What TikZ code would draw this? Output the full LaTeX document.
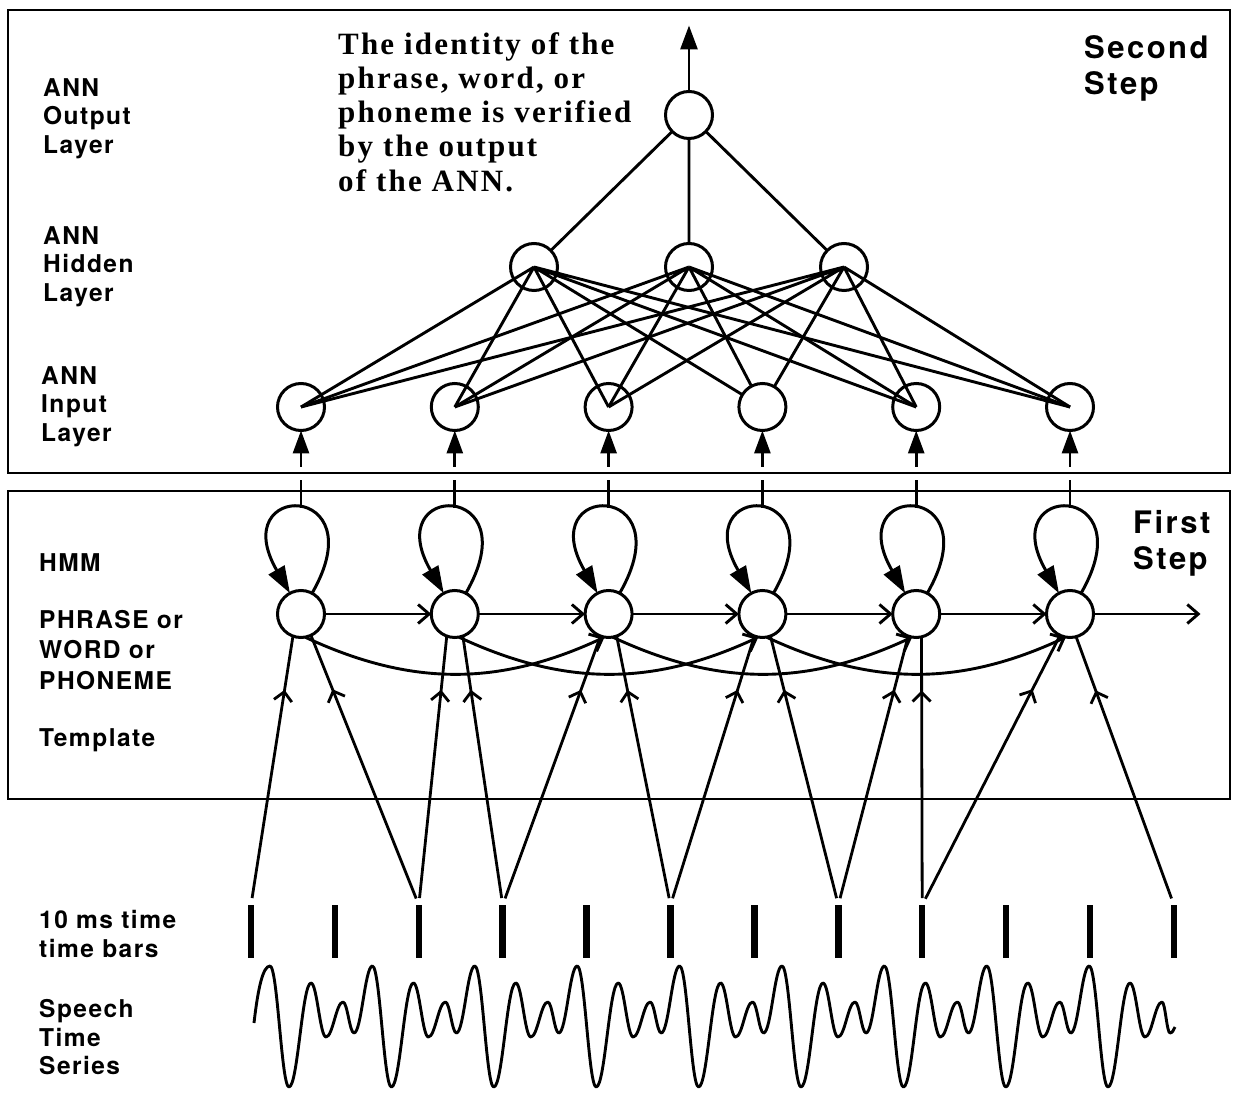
\documentclass[tikz,border=0pt]{standalone}
\usepackage{fontspec}
\setmainfont{Liberation Serif}
\setsansfont{TeX Gyre Heros}
\usepackage{tikz}
\usetikzlibrary{arrows.meta,positioning,decorations.markings}
\newfontfamily\labelfont[LetterSpace=6]{TeX Gyre Heros}
\newfontfamily\stepfont[LetterSpace=8]{TeX Gyre Heros}
\newfontfamily\notefont[LetterSpace=7]{Liberation Serif}

\begin{document}
\begin{tikzpicture}[x=1pt, y=1pt,
  node distance=106.8pt,
  state/.style={draw, circle, line width=3pt, minimum size=47pt, inner sep=0pt, outer sep=0pt},
  neuron/.style={state},
  link/.style={line width=2.9pt},
  fwd/.style={line width=2.9pt, -{Straight Barb[length=11pt,width=19pt]}},
  selfloop/.style={line width=3pt, -{Triangle[length=27pt,width=18pt]}},
  feed/.style={line width=2.9pt, -{Triangle[length=23pt,width=16pt]}, dash pattern=on 28pt off 13pt on 300pt},
  frame/.style={draw, line width=2.5pt},
  tbar/.style={fill, minimum width=6.5pt, minimum height=53pt, inner sep=0pt, outer sep=0pt},
  obs/.style={line width=2.8pt, shorten <=7pt, postaction={decorate},
    decoration={markings, mark=at position 0.8 with {\arrow{Straight Barb[length=9pt,width=18pt]}}}},
  wave/.style={line width=2.9pt, line join=round},
  lbl/.style={anchor=north west, inner sep=0pt, align=left, font=\labelfont\bfseries\fontsize{24.5}{28.8}\selectfont},
  steplbl/.style={anchor=north west, inner sep=0pt, align=left, font=\stepfont\bfseries\fontsize{31}{36}\selectfont},
  note/.style={anchor=north west, inner sep=0pt, align=left, font=\notefont\bfseries\fontsize{31}{34.3}\selectfont}
]
\useasboundingbox (0,0) rectangle (1236,1093);

% the two steps
\draw[frame] (8,620) rectangle (1230,1083);
\draw[frame] (8,294) rectangle (1230,602);

% labels
\node[lbl] (outlbl) at (43,1015) {ANN\\Output\\Layer};
\node[lbl] (hidlbl) at (43,867) {ANN\\Hidden\\Layer};
\node[lbl] (inlbl) at (41,727) {ANN\\Input\\Layer};
\node[lbl] (hmmlbl) at (39,540) {HMM};
\node[lbl, font=\labelfont\bfseries\fontsize{24.5}{30.5}\selectfont] (unitlbl) at (39,483) {PHRASE or\\WORD or\\PHONEME};
\node[lbl] (tpllbl) at (39,365) {Template};
\node[lbl] (barlbl) at (39,183) {10 ms time\\time bars};
\node[lbl] (wavelbl) at (39,94) {Speech\\Time\\Series};
\node[steplbl] (second) at (1084,1058) {Second\\Step};
\node[steplbl] (first) at (1133,583) {First\\Step};
\node[note] (verify) at (338,1061) {The identity of the\\phrase, word, or\\phoneme is verified\\by the output\\of the ANN.};

% ANN
\node[neuron] (hid2) at (689,826) {};
\node[neuron, left=108pt of hid2] (hid1) {};
\node[neuron, right=108pt of hid2] (hid3) {};
\node[neuron, above=105pt of hid2] (out) {};
\coordinate[above=66pt of out] (result);
\node[neuron] (in1) at (301,686) {};
\node[neuron, right=of in1] (in2) {};
\node[neuron, right=of in2] (in3) {};
\node[neuron, right=of in3] (in4) {};
\node[neuron, right=of in4] (in5) {};
\node[neuron, right=of in5] (in6) {};

\draw[line width=2.9pt, -{Triangle[length=24pt,width=17pt]}] (out) -- (result);
\draw[link] (out) -- (hid1) (out) -- (hid2) (out) -- (hid3);
\draw[link] (hid1.center) -- (in1.center) (hid1.center) -- (in2.center) (hid1.center) -- (in3.center)
  (hid1.center) -- (in4) (hid1.center) -- (in5.center) (hid1.center) -- (in6.center);
\draw[link] (hid2.center) -- (in1.center) (hid2.center) -- (in2.center) (hid2.center) -- (in3.center)
  (hid2.center) -- (in4) (hid2.center) -- (in5.center) (hid2.center) -- (in6.center);
\draw[link] (hid3.center) -- (in1.center) (hid3.center) -- (in2.center) (hid3.center) -- (in3.center)
  (hid3.center) -- (in4) (hid3.center) -- (in5.center) (hid3.center) -- (in6.center);

% HMM template
\node[state] (h1) at (301,479) {};
\node[state, right=of h1] (h2) {};
\node[state, right=of h2] (h3) {};
\node[state, right=of h3] (h4) {};
\node[state, right=of h4] (h5) {};
\node[state, right=of h5] (h6) {};
\coordinate[right=107pt of h6] (exit);
\coordinate[above=82.5pt of h1] (lt1);
\coordinate[above=82.5pt of h2] (lt2);
\coordinate[above=82.5pt of h3] (lt3);
\coordinate[above=82.5pt of h4] (lt4);
\coordinate[above=82.5pt of h5] (lt5);
\coordinate[above=82.5pt of h6] (lt6);

\draw[fwd] (h1) -- (h2);
\draw[fwd] (h2) -- (h3);
\draw[fwd] (h3) -- (h4);
\draw[fwd] (h4) -- (h5);
\draw[fwd] (h5) -- (h6);
\draw[fwd] (h6) -- (exit);
\draw[fwd] (h1.-80) to[out=-25, in=-155] (h3.-100);
\draw[fwd] (h2.-80) to[out=-25, in=-155] (h4.-100);
\draw[fwd] (h3.-80) to[out=-25, in=-155] (h5.-100);
\draw[fwd] (h4.-80) to[out=-25, in=-155] (h6.-100);
\draw[selfloop] (h1.62) .. controls +(60:130) and +(120:130) .. (h1.118);
\draw[selfloop] (h2.62) .. controls +(60:130) and +(120:130) .. (h2.118);
\draw[selfloop] (h3.62) .. controls +(60:130) and +(120:130) .. (h3.118);
\draw[selfloop] (h4.62) .. controls +(60:130) and +(120:130) .. (h4.118);
\draw[selfloop] (h5.62) .. controls +(60:130) and +(120:130) .. (h5.118);
\draw[selfloop] (h6.62) .. controls +(60:130) and +(120:130) .. (h6.118);
\draw[feed] (lt1) -- (in1);
\draw[feed] (lt2) -- (in2);
\draw[feed] (lt3) -- (in3);
\draw[feed] (lt4) -- (in4);
\draw[feed] (lt5) -- (in5);
\draw[feed] (lt6) -- (in6);

% 10 ms time bars
\node[tbar] (t1) at (251,161.5) {};
\node[tbar, right=77.4pt of t1] (t2) {};
\node[tbar, right=77.4pt of t2] (t3) {};
\node[tbar, right=77.4pt of t3] (t4) {};
\node[tbar, right=77.4pt of t4] (t5) {};
\node[tbar, right=77.4pt of t5] (t6) {};
\node[tbar, right=77.4pt of t6] (t7) {};
\node[tbar, right=77.4pt of t7] (t8) {};
\node[tbar, right=77.4pt of t8] (t9) {};
\node[tbar, right=77.4pt of t9] (t10) {};
\node[tbar, right=77.4pt of t10] (t11) {};
\node[tbar, right=77.4pt of t11] (t12) {};

\draw[obs] (t1.north) -- (h1.250);
\draw[obs] (t3.north) -- (h1.295);
\draw[obs] (t3.north) -- (h2.250);
\draw[obs] (t4.north) -- (h2.290);
\draw[obs] (t4.north) -- (h3.250);
\draw[obs] (t6.north) -- (h3.290);
\draw[obs] (t6.north) -- (h4.250);
\draw[obs] (t8.north) -- (h4.290);
\draw[obs] (t8.north) -- (h5.250);
\draw[obs] (t9.north) -- (h5.283);
\draw[obs] (t9.north) -- (h6.245);
\draw[obs] (t12.north) -- (h6.285);

% speech time series
\draw[wave] (254,70) .. controls (258,105) and (263,127) .. (270,127)
  \foreach \k [evaluate=\k as \p using 270+102.4*\k] in {0,...,7} {
    .. controls +(7.6,0) and +(-7.6,0) .. ({\p+19},6)
    .. controls +(8.8,0) and +(-8.8,0) .. ({\p+41},110)
    .. controls +(6,0) and +(-6,0) .. ({\p+56},56)
    .. controls +(6.8,0) and +(-6.8,0) .. ({\p+73},91)
    .. controls +(4.4,0) and +(-4.4,0) .. ({\p+84},60)
    .. controls +(7.4,0) and +(-7.4,0) .. ({\p+102.4},127)
  }
  .. controls +(7.6,0) and +(-7.6,0) .. (1108,6)
  .. controls +(8.8,0) and +(-8.8,0) .. (1130,110)
  .. controls +(6,0) and +(-6,0) .. (1145,56)
  .. controls +(6.8,0) and +(-6.8,0) .. (1162,91)
  .. controls +(3.2,0) and +(-3.2,0) .. (1170,60)
  .. controls +(2,0) and +(-1,-3) .. (1175,66);
\end{tikzpicture}
\end{document}
